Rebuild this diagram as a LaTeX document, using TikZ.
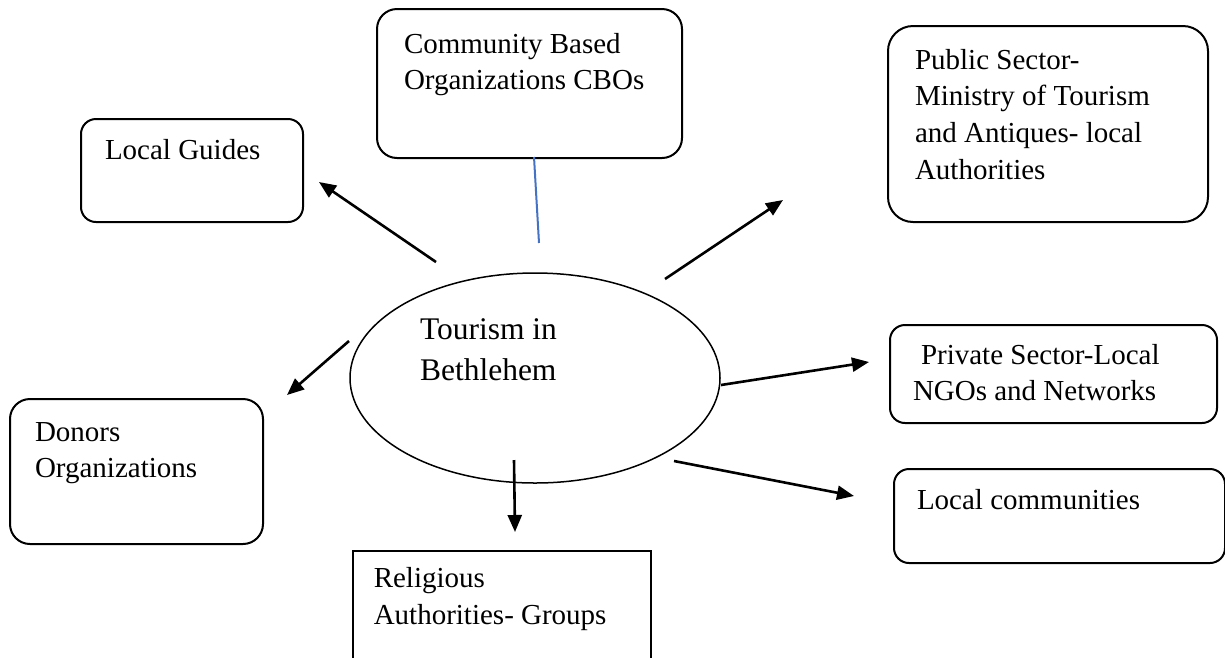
\documentclass[tikz,border=0pt]{standalone}
\usepackage{fontspec}
\setmainfont{Liberation Serif}
\usetikzlibrary{arrows.meta,shapes.geometric}
\definecolor{linkblue}{RGB}{68,114,196}
\newcommand\fsbox{\fontsize{29}{36.7}\selectfont}
\newcommand\fsell{\fontsize{31.5}{41}\selectfont}
% width, height, left pad, first baseline, text
\newcommand\boxcontent[5]{\parbox[t][#2][t]{#1}{\raggedright\leftskip=#3\relax\rule{0pt}{#4}#5}}
\tikzset{
  box/.style={draw, line width=2pt, inner sep=0pt, anchor=north west, font=\fsbox},
  sharpbox/.style={draw, line width=1.5pt, inner sep=0pt, anchor=north west, font=\fsbox},
  arr/.style={line width=2.6pt, -{Triangle[length=17pt,width=14pt]}},
  bluelink/.style={line width=2pt, draw=linkblue}
}
\begin{document}
\begin{tikzpicture}[x=1pt,y=-1pt]
\clip (0,0) rectangle (1225,657);
\fill[white] (0,0) rectangle (1225,657);

% boxes
\node[box, rounded corners=20pt] (cbo) at (376,8)
  {\boxcontent{305pt}{149pt}{27pt}{44pt}{Community Based\\Organizations CBOs}};
\node[box, rounded corners=15pt] (guides) at (80,118)
  {\boxcontent{222pt}{103pt}{24pt}{40pt}{Local Guides}};
\node[box, rounded corners=25pt] (public) at (887,25)
  {\boxcontent{320pt}{196pt}{27pt}{43pt}{Public Sector-\\Ministry of Tourism\\and Antiques- local\\Authorities}};
\node[box, rounded corners=15pt] (private) at (889,324)
  {\boxcontent{327pt}{98pt}{23pt}{39pt}{\hspace*{8pt}Private Sector-Local\\NGOs and Networks}};
\node[box, rounded corners=15pt] (localc) at (893,468)
  {\boxcontent{331pt}{94pt}{23pt}{40pt}{Local communities}};
\node[box, rounded corners=20pt] (donors) at (9,398)
  {\boxcontent{253pt}{145pt}{25pt}{42pt}{Donors\\Organizations}};
\node[sharpbox] (relig) at (352,550)
  {\boxcontent{298pt}{140pt}{21pt}{37pt}{Religious\\Authorities- Groups}};

% central ellipse
\node[draw, ellipse, line width=1.5pt, minimum width=370pt, minimum height=210pt, inner sep=0pt] (tour) at (535,378)
  {\makebox[0pt][l]{\hspace*{-115pt}\raisebox{-2pt}[0pt][0pt]{\parbox[b]{200pt}{\fsell\raggedright Tourism in\\Bethlehem}}}};

% arrow end points
\coordinate (sGuides) at (436,262);  \coordinate (eGuides) at (319,182);
\coordinate (sPublic) at (665,279);  \coordinate (ePublic) at (783,200);
\coordinate (sPrivate) at (721,385); \coordinate (ePrivate) at (869,362);
\coordinate (sLocal) at (674,461);   \coordinate (eLocal) at (854,496);
\coordinate (sRelig) at (514,460);   \coordinate (eRelig) at (515,532);
\coordinate (sDonors) at (349,341);  \coordinate (eDonors) at (287,395);
\coordinate (sCbo) at (534,157);     \coordinate (eCbo) at (539,243);

\draw[arr] (sGuides) -- (eGuides);
\draw[arr] (sPublic) -- (ePublic);
\draw[arr] (sPrivate) -- (ePrivate);
\draw[arr] (sLocal) -- (eLocal);
\draw[arr] (sRelig) -- (eRelig);
\draw[arr] (sDonors) -- (eDonors);
\draw[bluelink] (sCbo) -- (eCbo);
\end{tikzpicture}
\end{document}
